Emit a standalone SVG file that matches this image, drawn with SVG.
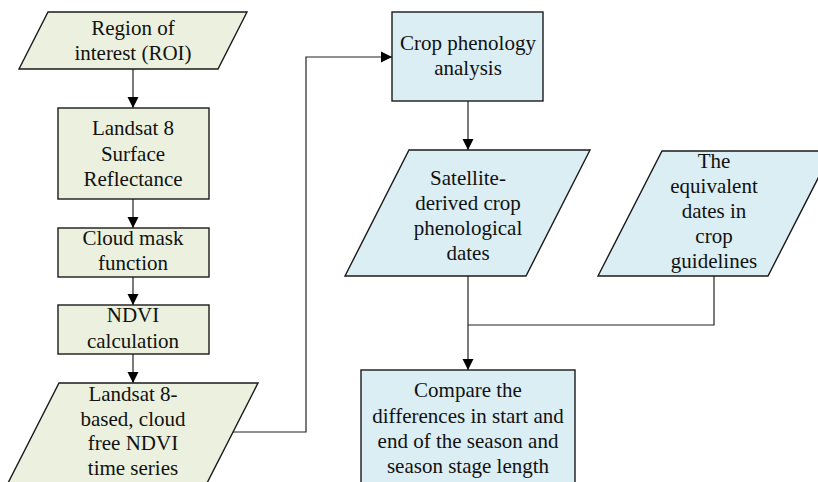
<svg xmlns="http://www.w3.org/2000/svg" width="818" height="482" viewBox="0 0 818 482">
<defs>
<marker id="arr" markerUnits="userSpaceOnUse" markerWidth="12" markerHeight="12" refX="11" refY="6" orient="auto">
<path d="M0,0.5 L11,6 L0,11.5 z" fill="#000"/>
</marker>
<style>
.g{fill:#EBF1DE;stroke:#1a1a1a;stroke-width:1.4}
.b{fill:#DBEEF4;stroke:#1a1a1a;stroke-width:1.4}
text{font-family:"Liberation Serif","Times New Roman",serif;font-size:21px;fill:#111;text-anchor:middle}
.c{fill:none;stroke:#222;stroke-width:1.2}
</style>
</defs>
<rect width="818" height="482" fill="#fff"/>
<g id="connectors">
<line class="c" x1="133" y1="69" x2="133" y2="108" marker-end="url(#arr)"/>
<line class="c" x1="133" y1="199" x2="133" y2="228" marker-end="url(#arr)"/>
<line class="c" x1="133" y1="277" x2="133" y2="305" marker-end="url(#arr)"/>
<line class="c" x1="133" y1="354" x2="133" y2="383" marker-end="url(#arr)"/>
<polyline class="c" points="233,432 306,432 306,57 392,57" marker-end="url(#arr)"/>
<line class="c" x1="468" y1="101" x2="468" y2="150" marker-end="url(#arr)"/>
<line class="c" x1="468" y1="276" x2="468" y2="370" marker-end="url(#arr)"/>
<polyline class="c" points="714,276 714,325 468,325"/>
</g>
<g id="roi">
<polygon class="g" points="48,12 247,12 218,69 19,69"/>
<text x="133" y="35">Region of</text>
<text x="133" y="60">interest (ROI)</text>
</g>
<g id="landsat">
<rect class="g" x="58" y="108" width="151" height="91"/>
<text x="133" y="135">Landsat 8</text>
<text x="133" y="161">Surface</text>
<text x="133" y="186">Reflectance</text>
</g>
<g id="cloudmask">
<rect class="g" x="58" y="228" width="151" height="49"/>
<text x="133" y="245">Cloud mask</text>
<text x="133" y="270">function</text>
</g>
<g id="ndvi">
<rect class="g" x="58" y="305" width="151" height="49"/>
<text x="133" y="322">NDVI</text>
<text x="133" y="348">calculation</text>
</g>
<g id="timeseries">
<polygon class="g" points="59,383 258,383 206,485 7,485"/>
<text x="133" y="401">Landsat 8-</text>
<text x="133" y="426">based, cloud</text>
<text x="133" y="450">free NDVI</text>
<text x="133" y="475">time series</text>
</g>
<g id="phenology">
<rect class="b" x="392" y="12" width="151" height="89"/>
<text x="468" y="50">Crop phenology</text>
<text x="468" y="75">analysis</text>
</g>
<g id="satellite">
<polygon class="b" points="409,150 590,150 526,276 345,276"/>
<text x="468" y="185">Satellite-</text>
<text x="468" y="210">derived crop</text>
<text x="468" y="235">phenological</text>
<text x="468" y="260">dates</text>
</g>
<g id="guidelines">
<polygon class="b" points="662,151 832,151 768,276 598,276"/>
<text x="714" y="168">The</text>
<text x="714" y="193">equivalent</text>
<text x="714" y="218">dates in</text>
<text x="714" y="243">crop</text>
<text x="714" y="268">guidelines</text>
</g>
<g id="compare">
<rect class="b" x="361" y="370" width="214" height="115"/>
<text x="468" y="397">Compare the</text>
<text x="468" y="423">differences in start and</text>
<text x="468" y="448">end of the season and</text>
<text x="468" y="473">season stage length</text>
</g>
</svg>
